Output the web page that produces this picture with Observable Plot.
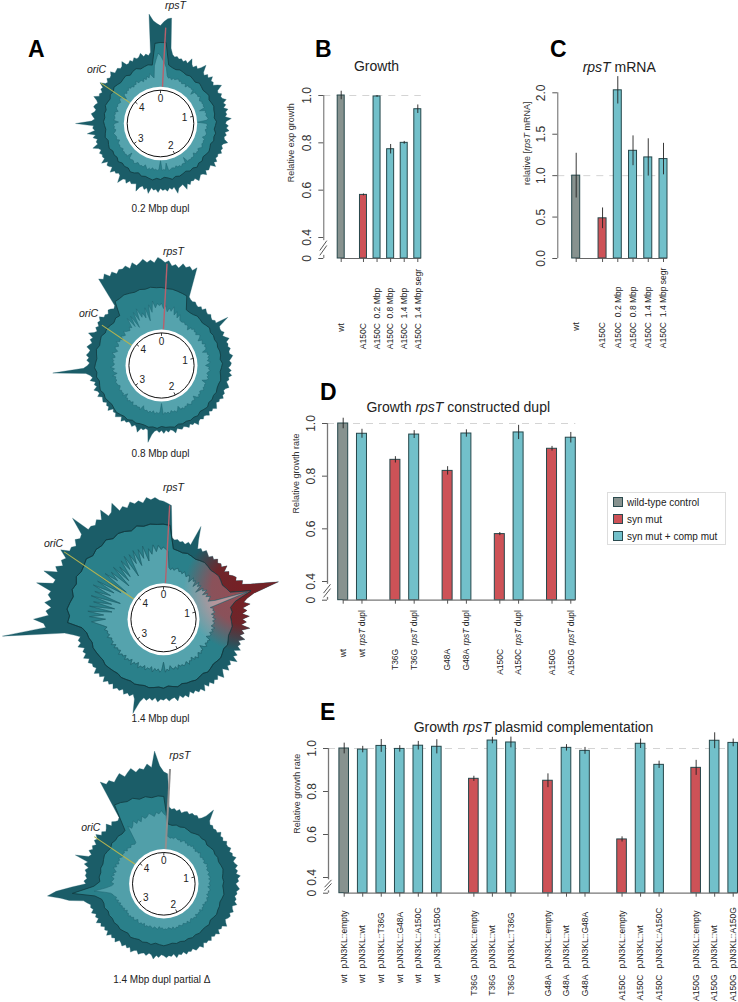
<!DOCTYPE html>
<html><head><meta charset="utf-8">
<script src="https://cdn.jsdelivr.net/npm/d3@7"></script>
<script src="https://cdn.jsdelivr.net/npm/@observablehq/plot@0.6"></script>
<style>
html,body{margin:0;padding:0;background:#fff}
#page{position:relative;width:738px;height:1002px;overflow:hidden;font-family:"Liberation Sans",Arial,sans-serif}
.letter{position:absolute;font-weight:700;font-size:23px;line-height:23px;color:#000}
#legend{position:absolute;left:607px;top:492px;width:119px;height:53px;box-sizing:border-box;border:1px solid #ddd;font-size:10px;color:#222}
#legend .row{position:absolute;left:5px;display:flex;align-items:center;gap:4px;height:10px;white-space:nowrap}
#legend i{display:inline-block;width:8px;height:8px;border:1px solid #2a4a4e}
</style></head><body><div id="page"></div>
<script>
// ---------- coverage profiles: edge and inner in 2 degree bins, mid line in 4 degree bins, clockwise from the top
const outer1=[98,102,105,106,76,70,68,69,67,68, 66,68,66,72,67,65,68,66,69,74,
 67,65,68,66,70,66,67,65,69,72, 66,65,68,66,67,70,66,68,65,69,
 66,67,65,71,66,65,68,66,69,65, 67,65,66,70,66,65,67,66,68,65,
 66,65,68,66,70,65,66,67,65,69, 66,65,67,69,65,66,65,68,66,71,
 65,66,67,72,65,67,65,68,66,67, 65,69,66,67,65,71,66,68,65,67,
 72,65,66,67,65,69,66,67,73,66, 65,67,66,70,65,67,68,65,71,66,
 67,66,68,65,67,72,66,67,65,69, 66,74,66,68,67,85,69,66,68,70,
 67,66,69,68,66,68,72,67,68,66, 69,68,73,68,67,70,68,69,72,68,
 69,70,68,69,73,68,68,70,68,71, 69,70,73,69,71,69,72,110,103,100];
const mid1=[81,81,59,57,56,57,56,55,56,55, 54,56,55,54,55,56,54,55,56,55,
 55,54,56,55,54,56,55,56,54,55, 56,55,54,56,55,57,55,56,54,55,
 56,55,57,55,54,56,55,57,56,55, 56,54,56,57,55,56,55,57,55,56,
 55,57,56,55,57,56,55,56,57,56, 57,56,58,57,56,58,57,59,58,57,
 58,59,57,59,60,58,59,60,59,80];
const inner1=[68,64,60,56,48,46,47,45,47,46, 47,48,46,47,45,46,47,44,47,46,
 47,46,47,42,47,46,47,46,48,46, 45,47,46,47,46,47,41,47,46,47,
 46,47,48,46,37,46,47,46,47,45, 46,47,47,46,44,47,46,47,46,47,
 48,46,45,47,46,47,44,46,47,46, 47,46,47,41,47,46,46,48,46,47,
 45,47,46,46,47,48,40,47,46,47, 37,46,47,46,47,45,47,46,48,46,
 44,47,46,47,46,45,47,48,46,46, 47,46,41,47,46,47,46,47,45,46,
 47,46,47,46,44,47,46,46,47,48, 46,45,47,46,47,46,42,47,46,46,
 47,46,47,44,46,47,46,47,46,45, 47,48,46,42,46,47,45,47,46,48,
 46,47,45,47,46,49,46,47,47,45, 48,46,49,47,51,48,46,58,64,70];
const outer2=[106,103,105,100,102,99,104,101,103,100, 104,74,72,71,72,70,69,71,69,72,
 70,69,71,69,68,70,69,82,70,69, 69,71,68,70,73,69,70,69,71,69,
 69,72,70,68,70,69,67,70,68,71, 68,69,67,69,71,68,67,69,68,70,
 67,68,66,68,70,67,68,66,69,67, 66,68,66,67,70,66,67,65,68,66,
 65,67,66,65,69,66,65,67,65,68, 65,67,65,66,70,78,66,65,67,66,
 71,67,65,68,66,65,67,66,69,65, 67,69,66,67,65,70,67,68,66,69,
 68,67,71,68,69,72,68,70,68,73, 70,72,76,109,78,74,72,75,73,76,
 74,73,77,75,73,76,74,80,75,73, 76,74,77,76,79,75,76,74,77,76,
 74,76,107,104,108,103,106,102,105,104, 106,102,107,103,105,108,104,106,103,108];
const mid2=[78,77,77,76,75,74,61,60,60,61, 60,59,60,61,59,60,59,60,59,60,
 60,59,61,60,59,60,61,60,60,61, 60,61,60,62,61,60,62,61,62,61,
 62,61,63,62,62,61,63,62,63,62, 62,63,62,64,63,64,65,64,63,64,
 65,64,66,65,64,66,65,67,66,65, 66,67,65,66,67,65,66,65,64,66,
 65,79,79,80,79,78,79,78,79,78];
const inner2=[62,57,60,54,58,55,60,52,56,50, 54,49,48,48,49,47,48,47,44,48,
 47,49,47,48,46,48,49,47,44,48, 47,46,49,47,48,47,43,48,47,49,
 47,48,46,49,47,44,48,47,49,47, 46,48,47,49,47,43,48,47,48,47,
 49,47,46,48,47,49,47,44,48,47, 47,49,48,46,48,47,49,47,48,44,
 47,49,47,48,46,49,47,48,47,49, 38,47,48,47,49,46,48,47,49,47,
 48,47,44,49,47,48,47,48,49,46, 48,47,49,47,48,44,49,47,48,47,
 49,47,46,48,48,49,47,48,47,50, 45,48,49,47,51,48,47,49,48,50,
 47,48,51,48,46,49,50,47,48,51, 48,49,46,50,48,47,51,49,48,47,
 50,48,58,47,58,44,60,50,62,52, 56,50,60,46,62,54,65,58,62,60];
const outer3=[118,116,114,82,80,81,79,80,78,81, 79,100,86,78,80,78,81,79,77,80,
 78,81,78,80,78,83,77,81,79,82, 84,82,88,86,94,106,121,94,86,82,
 88,80,84,79,86,79,83,78,87,79, 82,78,84,78,81,79,83,77,82,79,
 85,78,81,79,83,77,80,84,78,81, 79,82,78,81,77,83,79,81,78,80,
 77,82,79,81,78,83,79,80,82,79, 81,80,83,79,82,80,83,81,86,99,
 85,81,84,82,85,81,84,83,86,82, 85,83,87,82,86,84,88,83,85,84,
 87,84,89,85,87,84,90,86,88,85, 91,100,162,118,120,130,115,118,113,120,
 114,118,116,132,116,115,129,116,120,114, 118,115,124,116,117,114,119,116,118,136,
 117,118,116,120,117,126,117,119,127,117, 120,117,122,119,121,118,123,120,122,119];
const mid3=[95,94,71,70,69,70,69,68,69,70, 69,68,69,70,69,68,70,72,92,74,
 68,69,67,68,69,68,67,68,69,67, 68,69,68,67,68,69,67,68,69,68,
 68,67,69,68,67,69,68,69,70,69, 70,71,70,71,72,71,72,73,74,73,
 74,75,76,75,77,78,82,96,94,97, 95,93,96,94,97,95,96,98,95,97,
 96,98,95,97,96,94,97,95,96,95];
const inner3=[72,70,68,52,50,52,50,52,53,50, 51,49,52,50,48,51,49,45,51,48,
 50,44,51,47,50,42,50,48,52,46, 51,48,52,50,48,55,88,62,48,51,
 50,52,48,51,49,52,49,51,50,48, 52,49,51,48,50,49,46,51,49,50,
 48,51,49,45,50,49,51,48,50,52, 49,51,47,50,49,52,48,50,51,49,
 50,48,52,49,51,50,47,52,50,53, 43,51,53,50,52,50,54,49,52,51,
 54,50,53,52,55,50,53,52,56,51, 54,53,56,52,55,54,57,53,55,54,
 57,54,58,55,56,55,59,56,58,57, 60,57,61,66,72,58,74,60,76,52,
 75,50,72,54,76,46,74,58,78,56, 76,50,78,46,74,60,70,48,72,52,
 68,54,72,60,74,50,73,62,75,58, 74,64,76,60,72,66,75,68,74,70];
const outer4=[112,110,77,75,76,74,76,73,75,76, 74,76,75,76,74,76,80,89,78,75,
 76,74,75,74,77,74,75,73,76,74, 74,76,73,75,74,77,73,74,76,73,
 75,73,77,74,75,72,74,76,73,74, 72,74,73,76,72,73,75,72,74,73,
 71,73,76,72,73,71,75,72,73,71, 74,72,73,71,75,72,73,74,71,73,
 72,74,71,73,72,75,71,73,72,74, 72,71,74,72,76,72,71,74,72,73,
 75,72,73,76,72,74,72,75,73,72, 76,73,75,73,77,73,75,73,76,74,
 78,74,76,74,78,75,77,76,79,82, 96,104,117,108,92,78,80,77,79,78,
 80,77,82,79,93,80,78,82,79,81, 78,82,80,84,79,81,78,80,83,78,
 81,79,78,80,120,115,117,113,116,119, 114,117,120,115,118,116,121,117,133,118];
const mid4=[87,60,59,60,59,60,59,58,59,60, 59,60,58,59,60,59,60,59,60,61,
 60,59,60,59,60,61,60,59,60,60, 61,60,59,61,60,60,61,60,61,60,
 61,60,61,60,61,62,61,60,62,61, 62,61,62,63,61,62,63,62,63,62,
 63,62,64,63,64,70,92,70,64,65, 64,65,64,65,66,65,64,66,65,66,
 65,66,93,92,90,91,88,89,87,88];
const inner4=[70,68,48,47,46,47,46,48,47,46, 47,45,47,48,46,47,45,47,46,48,
 46,47,45,47,46,48,46,45,47,46, 47,45,46,48,46,47,45,46,47,45,
 46,47,45,47,46,45,47,44,46,47, 45,46,44,47,45,46,47,45,46,44,
 46,45,47,44,46,45,46,44,47,45, 46,44,45,47,44,46,45,44,46,45,
 44,46,45,47,44,46,45,44,46,45, 46,44,45,43,46,45,44,46,45,44,
 46,45,47,44,46,45,47,46,44,46, 47,45,47,46,48,46,47,45,48,46,
 48,47,49,47,50,48,51,49,51,52, 54,60,70,58,52,50,53,51,50,53,
 50,52,49,51,53,50,52,49,51,50, 52,50,49,51,50,52,49,51,50,49,
 51,50,49,50,68,64,66,70,66,69, 66,71,68,69,72,70,68,72,70,73];
const genomeMbp=[0,1,2,3,4];
const genomeLength=4.64;
const rpsTMbp=0.04;
const oriCMbp=3.92;

// ---------- bar panels
const kindNames=["wt","syn","comp"];
const kindColors=["#87928f","#cd5257","#72c0ca"];
const legendLabels=["wild-type control","syn mut","syn mut + comp mut"];

const strainB=["wt","A150C","A150C","A150C","A150C","A150C"];
const suffixB=["","","0.2 Mbp","0.8 Mbp","1.4 Mbp","1.4 Mbp segr"];
const valueB=[1.0,0.58,0.996,0.773,0.80,0.942];
const errorB=[0.018,0.004,0.004,0.02,0.006,0.018];
const kindB=["wt","syn","comp","comp","comp","comp"];
const groupB=[0,1,1,1,1,1];

const strainC=strainB, suffixC=suffixB, kindC=kindB, groupC=groupB;
const valueC=[1.0,0.485,2.03,1.30,1.22,1.20];
const errorC=[0.27,0.125,0.165,0.18,0.225,0.19];

const strainD=["wt","wt","T36G","T36G","G48A","G48A","A150C","A150C","A150G","A150G"];
const suffixD=["","rpsT dupl","","rpsT dupl","","rpsT dupl","","rpsT dupl","","rpsT dupl"];
const valueD=[1.0,0.961,0.862,0.958,0.82,0.962,0.58,0.966,0.904,0.946];
const errorD=[0.02,0.017,0.012,0.015,0.016,0.014,0.006,0.027,0.009,0.02];
const kindD=["wt","comp","syn","comp","syn","comp","syn","comp","syn","comp"];
const groupD=[0,0,1,1,2,2,3,3,4,4];

const strainE=["wt","wt","wt","wt","wt","wt","T36G","T36G","T36G","G48A","G48A","G48A","A150C","A150C","A150C","A150G","A150G","A150G"];
const suffixE=["pJN3KL::empty","pJN3KL::wt","pJN3KL::T36G","pJN3KL::G48A","pJN3KL::A150C","pJN3KL::A150G","pJN3KL::empty","pJN3KL::wt","pJN3KL::T36G","pJN3KL::empty","pJN3KL::wt","pJN3KL::G48A","pJN3KL::empty","pJN3KL::wt","pJN3KL::A150C","pJN3KL::empty","pJN3KL::wt","pJN3KL::A150G"];
const valueE=[1.0,0.995,1.012,0.998,1.013,1.008,0.859,1.037,1.028,0.85,1.003,0.989,0.577,1.022,0.924,0.91,1.036,1.026];
const errorE=[0.025,0.015,0.03,0.015,0.02,0.033,0.012,0.015,0.025,0.032,0.015,0.016,0.012,0.022,0.017,0.035,0.037,0.018];
const kindE=["wt","comp","comp","comp","comp","comp","syn","comp","comp","syn","comp","comp","syn","comp","comp","syn","comp","comp"];
const groupE=[0,0,0,0,0,0,1,1,1,2,2,2,3,3,3,4,4,4];

// ---------- helpers
const page=document.getElementById("page");
const FONT='"Liberation Sans",Arial,sans-serif';
function italicize(svg){
  d3.select(svg).selectAll("text").each(function(){
    const t=this.textContent;
    if(!t.includes("rpsT")||t==="rpsT")return;
    const parts=t.split("rpsT");
    while(this.firstChild)this.removeChild(this.firstChild);
    const sel=d3.select(this);
    parts.forEach((p,i)=>{
      if(i>0)sel.append("tspan").attr("font-style","italic").text("rpsT");
      if(p)sel.append("tspan").text(p);
    });
  });
}
function place(svg,left,top){
  svg.style.position="absolute";svg.style.left=left+"px";svg.style.top=top+"px";
  svg.style.background="transparent";svg.style.overflow="visible";svg.style.maxWidth="none";
  page.appendChild(svg);
}
const ring=vals=>vals.map((r,i)=>({r,a:i/vals.length*2*Math.PI}));
const X=d=>d.r*Math.sin(d.a), Y=d=>d.r*Math.cos(d.a);
const mbpAngle=m=>m/genomeLength*2*Math.PI;

function polar(c){
  const dark="#1b5d68",midC="#2a808a",lightC=c.light||"#55a3ad";
  const closed=(v,fill,stroke,sw)=>Plot.line(ring(v),{x:X,y:Y,curve:"linear-closed",fill,stroke,strokeWidth:sw});
  const W=300;
  const seg=(m,r1,r2)=>[{a:mbpAngle(m),r1,r2}];
  const linkOpts={x1:d=>d.r1*Math.sin(d.a),y1:d=>d.r1*Math.cos(d.a),x2:d=>d.r2*Math.sin(d.a),y2:d=>d.r2*Math.cos(d.a)};
  const marks=[
    closed(c.outer,dark,dark,0.3),
    c.glow?closed(c.outer,"url(#glowOuter)","none",0):null,
    closed(c.mid,midC,"#10383e",0.8),
    c.glow?closed(c.mid,"url(#glowMid)","#10383e",0.6):null,
    closed(c.inner,lightC,"#1f6470",0.5),
    c.glow?closed(c.inner,"url(#glowInner)","#1f5a62",0.4):null,
    Plot.link(seg(oriCMbp,c.r0,c.oriR),{...linkOpts,stroke:"#b4b350",strokeWidth:1.1}),
    Plot.link(seg(rpsTMbp,c.r0,c.rpsR),{...linkOpts,stroke:c.rpsColor||"#b8606c",strokeWidth:c.rpsWidth||1.4}),
    Plot.dot([0],{x:()=>0,y:()=>0,r:c.r0,fill:"#fff",stroke:"none"}),
    Plot.dot([0],{x:()=>0,y:()=>0,r:c.r0-3.4,fill:"none",stroke:"#111",strokeWidth:1}),
    Plot.link(genomeMbp,{x1:d=>(c.r0-3.4)*Math.sin(mbpAngle(d)),y1:d=>(c.r0-3.4)*Math.cos(mbpAngle(d)),x2:d=>(c.r0-6.4)*Math.sin(mbpAngle(d)),y2:d=>(c.r0-6.4)*Math.cos(mbpAngle(d)),stroke:"#111",strokeWidth:0.8}),
    Plot.text(genomeMbp,{x:d=>(c.r0-12)*Math.sin(mbpAngle(d)),y:d=>(c.r0-12)*Math.cos(mbpAngle(d)),text:d=>String(d),fontSize:10,fill:"#222",fontFamily:FONT}),
    Plot.text(["rpsT"],{x:()=>c.rpsL[0],y:()=>-c.rpsL[1],text:d=>d,fontStyle:"italic",fontSize:10.5,fill:"#222",fontFamily:FONT}),
    Plot.text(["oriC"],{x:()=>c.oriL[0],y:()=>-c.oriL[1],text:d=>d,fontStyle:"italic",fontSize:10.5,fill:"#222",fontFamily:FONT}),
    Plot.text([c.caption],{x:()=>c.capL[0],y:()=>-c.capL[1],text:d=>d,fontSize:10,fill:"#222",fontFamily:FONT})
  ].filter(Boolean);
  const svg=Plot.plot({width:W,height:c.h,margin:0,
    x:{domain:[-c.cx,W-c.cx],range:[0,W],axis:null},
    y:{domain:[-(c.h-c.cy),c.cy],range:[c.h,0],axis:null},
    marks});
  if(c.glow){
    const sx=svg.scale("x"),sy=svg.scale("y");
    const defs=d3.select(svg).insert("defs",":first-child");
    [["glowOuter","#7c1c20",0.95],["glowMid","#9a4a52",0.95],["glowInner","#c49499",0.95]].forEach(([id,col,op])=>{
      const g=defs.append("radialGradient").attr("id",id).attr("gradientUnits","userSpaceOnUse")
        .attr("cx",sx.apply(c.glow[0])).attr("cy",sy.apply(c.glow[1])).attr("r",c.glow[2]);
      g.append("stop").attr("offset","0%").attr("stop-color",col).attr("stop-opacity",op);
      g.append("stop").attr("offset","55%").attr("stop-color",col).attr("stop-opacity",op*0.9);
      g.append("stop").attr("offset","100%").attr("stop-color",col).attr("stop-opacity",0);
    });
  }
  place(svg,0,c.top);
}

function bars(c){
  const rows=c.strain.map((s,i)=>({strain:s,suffix:c.suffix[i],value:c.value[i],err:c.error[i],kind:c.kind[i],pos:i+c.group[i]*c.gap}));
  const p0=rows[0].pos,p1=rows[rows.length-1].pos;
  const unit=(c.lastX-c.firstX)/(p1-p0);
  const xAt=px=>p0+(px-c.firstX)/unit;
  const hw=c.barW/2/unit;
  const axisStroke=c.axisStroke||"#666",axisW=c.axisW||1;
  // the broken axis: the stretch from 0 to 0.4 is drawn short, so the baseline sits at a stand-in value d0
  const d0=c.broken?0.4-(c.py0-c.py4)/((c.py4-c.pyTop)/(c.top_v-0.4)):0;
  const frac=f=>d0+(0.4-d0)*f;
  const ticks=c.broken?[d0,0.4,0.6,0.8,1]:c.ticks;
  const tickFmt=d=>d===d0?(c.broken?"0":"0.0"):d.toFixed(1);
  const y0local=c.py0-c.top;
  const labelCommon={x:"pos",frameAnchor:"top",lineAnchor:"middle",rotate:-90,fontSize:8.5,fill:"#222",fontFamily:FONT};
  const marks=[
    Plot.ruleY([1],{x1:xAt(c.axisX),x2:p1+hw,stroke:"#d4d4d4",strokeDasharray:"7,6",strokeWidth:1}),
    Plot.rectY(rows,{x1:d=>d.pos-hw,x2:d=>d.pos+hw,y1:d0,y2:"value",fill:"kind",stroke:"#26474b",strokeWidth:1}),
    Plot.ruleX(rows,{x:"pos",y1:d=>d.value-d.err,y2:d=>d.value+d.err,stroke:"#222",strokeWidth:0.9}),
    Plot.ruleY([d0],{x1:p0,x2:p1+hw,stroke:axisStroke,strokeWidth:axisW}),
    Plot.axisY({ticks,tickFormat:tickFmt,tickSize:5,tickPadding:8,tickRotate:-90,label:null,fontSize:12,stroke:"#555",fontFamily:FONT,fill:"#333"}),
    Plot.axisX({ticks:rows.map(d=>d.pos),tickFormat:()=>"",tickSize:4,label:null,stroke:"#555"}),
    Plot.text(rows,{...labelCommon,text:"strain",textAnchor:"end",dy:c.labelY-c.top}),
    Plot.text(rows.filter(d=>d.suffix),{...labelCommon,text:"suffix",textAnchor:"start",dy:c.suffixY-c.top}),
    Plot.text([c.title],{x:xAt(c.titleX),y:c.top_v,dy:c.titleDy,text:d=>d,fontSize:14,fill:"#222",fontFamily:FONT}),
    Plot.text([c.ylabel],{x:xAt(c.axisX),y:c.ylabelV,dx:c.ylabelDx,rotate:-90,text:d=>d,fontSize:9,fill:"#333",fontFamily:FONT})
  ];
  if(c.broken){
    marks.push(
      Plot.ruleX([xAt(c.axisX)],{y1:frac(0.85),y2:1,stroke:axisStroke,strokeWidth:axisW}),
      Plot.ruleX([xAt(c.axisX)],{y1:d0,y2:frac(0.15),stroke:axisStroke,strokeWidth:axisW}),
      Plot.link([[0.15,0.62],[0.38,0.85]],{x1:xAt(c.axisX-4),x2:xAt(c.axisX+3),y1:d=>frac(d[0]),y2:d=>frac(d[1]),stroke:"#444",strokeWidth:0.9})
    );
  } else {
    marks.push(Plot.ruleX([xAt(c.axisX)],{y1:0,y2:c.top_v,stroke:axisStroke,strokeWidth:axisW}));
  }
  const svg=Plot.plot({width:c.width,height:c.height,marginTop:0,marginRight:0,marginLeft:c.axisX-c.left,marginBottom:c.height-y0local,
    x:{domain:[p0,p1],range:[c.firstX-c.left,c.lastX-c.left],axis:null},
    y:{domain:[d0,c.top_v],range:[y0local,c.pyTop-c.top],axis:null},
    color:{domain:kindNames,range:kindColors},
    marks});
  italicize(svg);
  place(svg,c.left,c.top);
}

// ---------- panel A
polar({outer:outer1,mid:mid1,inner:inner1,r0:36.7,cx:160,cy:123,top:0,h:225,oriR:72,rpsR:96,rpsL:[15,-118],oriL:[-64,-54],capL:[0,85],caption:"0.2 Mbp dupl"});
polar({outer:outer2,mid:mid2,inner:inner2,r0:36,cx:161,cy:135,top:230,h:235,oriR:72,rpsR:102,rpsL:[12,-114],oriL:[-73,-52],capL:[-1,88],caption:"0.8 Mbp dupl"});
polar({outer:outer3,mid:mid3,inner:inner3,r0:36,cx:163,cy:148.7,top:470,h:262,oriR:120,rpsR:114,rpsL:[10,-132],oriL:[-110,-76],capL:[-3,99.5],caption:"1.4 Mbp dupl",glow:[82,29,62]});
polar({outer:outer4,mid:mid4,inner:inner4,r0:34.7,cx:163.3,cy:143.3,top:740,h:262,oriR:84,rpsR:115,rpsL:[16,-128],oriL:[-73,-56],capL:[-2,95.5],caption:"1.4 Mbp dupl partial Δ",rpsColor:"#8f8f8f",rpsWidth:2,light:"#519fa9"});

// ---------- panels B to E
bars({strain:strainB,suffix:suffixB,value:valueB,error:errorB,kind:kindB,group:groupB,gap:0.64,
  left:280,top:50,width:170,height:305,axisX:323.3,firstX:340.7,lastX:417.3,barW:7,
  py0:258,py4:237,pyTop:95,top_v:1,broken:true,labelY:322.7,suffixY:318,
  title:"Growth",titleX:376,titleDy:-29,ylabel:"Relative exp growth",ylabelV:0.8,ylabelDx:-33});
bars({strain:strainC,suffix:suffixC,value:valueC,error:errorC,kind:kindC,group:groupC,gap:0.73,
  left:510,top:50,width:170,height:305,axisX:557.3,firstX:575.7,lastX:663,barW:8,
  py0:258,pyTop:92.3,top_v:2,ticks:[0,0.5,1,1.5,2],broken:false,labelY:321.7,suffixY:316.7,
  title:"rpsT mRNA",titleX:618.7,titleDy:-25.5,ylabel:"relative [rpsT mRNA]",ylabelV:1.39,ylabelDx:-31});
bars({strain:strainD,suffix:suffixD,value:valueD,error:errorD,kind:kindD,group:groupD,gap:0.78,
  left:280,top:395,width:300,height:270,axisX:327,firstX:342.7,lastX:570.3,barW:10,
  py0:599.7,py4:581,pyTop:423,top_v:1,broken:true,axisStroke:"#777",axisW:1.3,labelY:648.3,suffixY:645,
  title:"Growth rpsT constructed dupl",titleX:457.7,titleDy:-16,ylabel:"Relative growth rate",ylabelV:0.81,ylabelDx:-31});
bars({strain:strainE,suffix:suffixE,value:valueE,error:errorE,kind:kindE,group:groupE,gap:1,
  left:280,top:715,width:458,height:287,axisX:328,firstX:343.7,lastX:732.7,barW:9.6,
  py0:892.7,py4:877,pyTop:748,top_v:1,broken:true,axisStroke:"#777",axisW:1.3,labelY:974,suffixY:968,
  title:"Growth rpsT plasmid complementation",titleX:533,titleDy:-21,ylabel:"Relative growth rate",ylabelV:0.79,ylabelDx:-31});

// ---------- panel letters
[["A",28,38],["B",315,38],["C",550,38],["D",320,381],["E",320,701]].forEach(([t,l,tp])=>{
  const d=document.createElement("div");d.className="letter";d.textContent=t;d.style.left=l+"px";d.style.top=tp+"px";page.appendChild(d);
});
// ---------- legend
const lg=document.createElement("div");lg.id="legend";
legendLabels.forEach((t,i)=>{
  const r=document.createElement("div");r.className="row";r.style.top=[4,21,38][i]+"px";
  r.innerHTML=`<i style="background:${kindColors[i]}"></i><span>${t}</span>`;lg.appendChild(r);
});
page.appendChild(lg);
</script></body></html>
